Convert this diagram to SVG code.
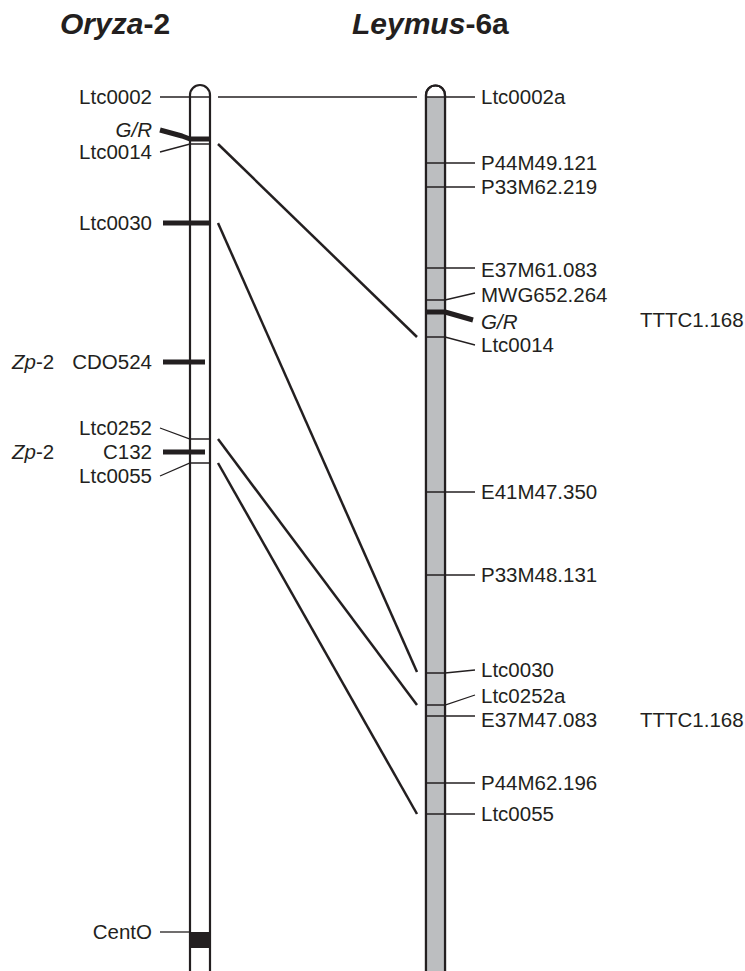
<svg xmlns="http://www.w3.org/2000/svg" width="745" height="971" viewBox="0 0 745 971">
<style>
text{font-family:"Liberation Sans",Arial,sans-serif;font-size:20.5px;fill:#231f20}
.t{font-size:30px;font-weight:bold}
.r{text-anchor:end}
.i{font-style:italic}
.thin{stroke:#231f20;stroke-width:1.3;fill:none}
.thick{stroke:#231f20;stroke-width:5;fill:none}
.conn{stroke:#231f20;stroke-width:2.5;fill:none}
.chr{stroke:#231f20;stroke-width:2.2}
</style>
<rect width="745" height="971" fill="#fff"/>
<g id="titles">
<text class="t" x="60" y="34"><tspan class="i">Oryza</tspan>-2</text>
<text class="t" x="352" y="34"><tspan class="i">Leymus</tspan>-6a</text>
</g>
<g id="oryza-chromosome">
<path class="chr" d="M190,975 V95 A10,10 0 0 1 210,95 V975" fill="#fff"/>
<rect x="190" y="932" width="20" height="16" fill="#231f20"/>
</g>
<g id="leymus-chromosome">
<path class="chr" d="M426,975 V95 A9.5,9.5 0 0 1 445,95 V975" fill="#fff"/>
<rect x="427" y="97" width="17" height="880" fill="#bcbec0"/>
<path class="chr" d="M426,975 V95 A9.5,9.5 0 0 1 445,95 V975" fill="none"/>
</g>
<g id="oryza-markers">
<g id="o-Ltc0002"><path class="thin" d="M160,97 H210"/><text class="r" x="152" y="104">Ltc0002</text></g>
<g id="o-GR"><path class="thick" d="M160,130 L182,136 L190,139 H210" stroke-linejoin="round"/><text class="r i" x="152" y="137">G/R</text></g>
<g id="o-Ltc0014"><path class="thin" d="M160,152 L190,144 H210"/><text class="r" x="152" y="159">Ltc0014</text></g>
<g id="o-Ltc0030"><path class="thick" d="M163,223 H210"/><text class="r" x="152" y="230">Ltc0030</text></g>
<g id="o-CDO524"><path class="thick" d="M163,362 H205"/><text class="r" x="152" y="369">CDO524</text><text x="12" y="369"><tspan class="i">Zp</tspan>-2</text></g>
<g id="o-Ltc0252"><path class="thin" d="M160,428 L190,439 H210"/><text class="r" x="152" y="435">Ltc0252</text></g>
<g id="o-C132"><path class="thick" d="M163,452 H205"/><text class="r" x="152" y="459">C132</text><text x="12" y="459"><tspan class="i">Zp</tspan>-2</text></g>
<g id="o-Ltc0055"><path class="thin" d="M160,476 L190,463 H210"/><text class="r" x="152" y="483">Ltc0055</text></g>
<g id="o-CentO"><path class="thin" d="M160,932 H190"/><text class="r" x="152" y="939">CentO</text></g>
</g>
<g id="leymus-markers">
<g id="l-Ltc0002a"><path class="thin" d="M426,97 H475"/><text x="481" y="104">Ltc0002a</text></g>
<g id="l-P44M49.121"><path class="thin" d="M426,163 H475"/><text x="481" y="170">P44M49.121</text></g>
<g id="l-P33M62.219"><path class="thin" d="M426,187 H475"/><text x="481" y="194">P33M62.219</text></g>
<g id="l-E37M61.083"><path class="thin" d="M426,268 H475"/><text x="481" y="277">E37M61.083</text></g>
<g id="l-MWG652.264"><path class="thin" d="M426,300 H445 L475,293"/><text x="481" y="302">MWG652.264</text></g>
<g id="l-GR"><path class="thick" d="M426,312 H445 L473,320" stroke-linejoin="round"/><text class="i" x="481" y="329">G/R</text><text x="640" y="327">TTTC1.168</text></g>
<g id="l-Ltc0014"><path class="thin" d="M426,337 H445 L475,345"/><text x="481" y="352">Ltc0014</text></g>
<g id="l-E41M47.350"><path class="thin" d="M426,492 H475"/><text x="481" y="499">E41M47.350</text></g>
<g id="l-P33M48.131"><path class="thin" d="M426,575 H475"/><text x="481" y="582">P33M48.131</text></g>
<g id="l-Ltc0030"><path class="thin" d="M426,673 H445 L475,670"/><text x="481" y="677">Ltc0030</text></g>
<g id="l-Ltc0252a"><path class="thin" d="M426,705 H445 L475,695"/><text x="481" y="703">Ltc0252a</text></g>
<g id="l-E37M47.083"><path class="thin" d="M426,716 H475"/><text x="481" y="727">E37M47.083</text><text x="640" y="727">TTTC1.168</text></g>
<g id="l-P44M62.196"><path class="thin" d="M426,783 H475"/><text x="481" y="790">P44M62.196</text></g>
<g id="l-Ltc0055"><path class="thin" d="M426,814 H475"/><text x="481" y="821">Ltc0055</text></g>
</g>
<g id="connectors">
<path class="thin" d="M218,97 H417"/>
<path class="conn" d="M218,144 L417,337"/>
<path class="conn" d="M218,223 L417,672"/>
<path class="conn" d="M218,439 L417,705"/>
<path class="conn" d="M218,463 L417,814"/>
</g>
</svg>
